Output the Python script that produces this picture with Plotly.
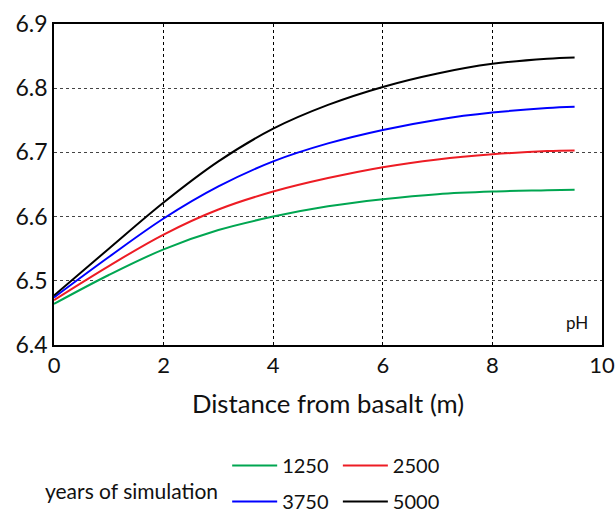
import plotly.graph_objects as go

distance = [0, 1, 2, 3, 4, 5, 6, 7, 8, 9, 9.5]
ph_1250 = [6.464, 6.509, 6.549, 6.579, 6.600, 6.616, 6.627, 6.635, 6.639, 6.641, 6.642]
ph_2500 = [6.470, 6.523, 6.572, 6.611, 6.639, 6.660, 6.677, 6.689, 6.697, 6.702, 6.703]
ph_3750 = [6.474, 6.537, 6.597, 6.647, 6.686, 6.714, 6.735, 6.751, 6.762, 6.769, 6.771]
ph_5000 = [6.477, 6.550, 6.622, 6.686, 6.737, 6.774, 6.802, 6.823, 6.838, 6.846, 6.848]

series = [
    ("1250", ph_1250, "#00a651", "legend"),
    ("2500", ph_2500, "#ed1c24", "legend2"),
    ("3750", ph_3750, "#0000ff", "legend"),
    ("5000", ph_5000, "#000000", "legend2"),
]

FONT = "Lato"
fig = go.Figure()
for name, vals, color, leg in series:
    fig.add_trace(go.Scatter(
        x=distance, y=vals, mode="lines", name=name,
        line=dict(color=color, width=2, shape="spline", smoothing=1.0),
        legend=leg, legendgroup=name,
    ))

legend_common = dict(
    orientation="v", xanchor="left", yanchor="top",
    font=dict(family=FONT, size=20, color="#111"),
    bgcolor="rgba(0,0,0,0)", tracegroupgap=7, itemwidth=45,
    traceorder="grouped",
)

fig.update_layout(
    width=616, height=516,
    margin=dict(l=54, r=14, t=24, b=171, autoexpand=False),
    paper_bgcolor="white", plot_bgcolor="white",
    font=dict(family=FONT, size=20, color="#111"),
    showlegend=True,
    legend=dict(x=0.316, y=-0.315, **legend_common),
    legend2=dict(x=0.518, y=-0.315, **legend_common),
    xaxis=dict(
        range=[0, 10], dtick=2, tick0=0, automargin=False,
        showline=True, linecolor="black", linewidth=1.5, mirror=True,
        showgrid=True, gridcolor="black", griddash="dot", gridwidth=1,
        zeroline=False, ticks="",
        tickfont=dict(family=FONT, size=22, color="#111"),
        title=dict(text="Distance from basalt (m)", font=dict(family=FONT, size=25.7, color="#111"), standoff=18),
    ),
    yaxis=dict(
        range=[6.4, 6.9], dtick=0.1, tick0=6.4, tickformat=".1f", automargin=False,
        showline=True, linecolor="black", linewidth=1.5, mirror=True,
        showgrid=True, gridcolor="#444", griddash="dot", gridwidth=1,
        zeroline=False, ticks="",
        tickfont=dict(family=FONT, size=23, color="#111"),
    ),
    annotations=[
        dict(text="pH", xref="x", yref="y", x=9.55, y=6.435, showarrow=False,
             xanchor="center", yanchor="middle", font=dict(family=FONT, size=17, color="#111")),
        dict(text="years of simulation", xref="paper", yref="paper", x=-0.02, y=-0.452,
             showarrow=False, xanchor="left", yanchor="middle",
             font=dict(family=FONT, size=21, color="#111")),
    ],
)

fig.write_html("out.html")
